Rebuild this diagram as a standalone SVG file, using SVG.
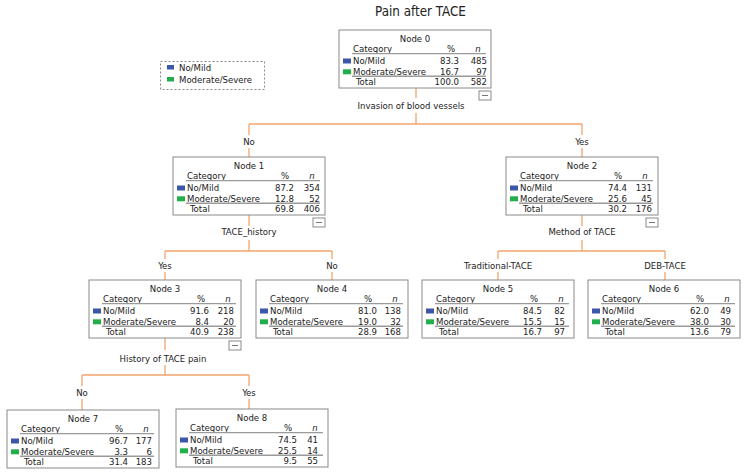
<svg xmlns="http://www.w3.org/2000/svg" width="745" height="475" viewBox="0 0 745 475">
<style>
text{font-family:"DejaVu Sans Condensed","DejaVu Sans","Liberation Sans",sans-serif;font-size:9.5px;fill:#222}
.c{text-anchor:middle}
.r{text-anchor:end}
.i{font-style:italic}
.title{font-size:13.3px}
.box{fill:#fff;stroke:#8a8a8a;stroke-width:1}
.hl{stroke:#9a9a9a;stroke-width:1.4}
.blue{fill:#3d57a8}
.green{fill:#22ae4b}
.btn{fill:#fff;stroke:#8a8a8a;stroke-width:1}
.btnl{stroke:#777;stroke-width:1}
.con line{stroke:#f5a56c;stroke-width:1.3;fill:none}
.legend{fill:#fff;stroke:#888;stroke-width:1;stroke-dasharray:2,2}
</style>
<defs>
<g id="tbl">
<rect class="box" x="0" y="0" width="152" height="58"/>
<text x="14" y="22">Category</text>
<text class="c" x="112" y="22">%</text>
<text class="c i" x="139" y="22">n</text>
<line class="hl" x1="13" y1="23.6" x2="147" y2="23.6"/>
<rect class="blue" x="4" y="28.5" width="8" height="5"/>
<text x="14" y="33.5">No/Mild</text>
<rect class="green" x="4" y="39.3" width="8" height="5"/>
<text x="14" y="44.5">Moderate/Severe</text>
<line class="hl" x1="13" y1="46.2" x2="147" y2="46.2"/>
<text x="17" y="55">Total</text>
</g>
<g id="btn">
<rect class="btn" x="140" y="61" width="12" height="9"/>
<line class="btnl" x1="143" y1="65.5" x2="149" y2="65.5"/>
</g>
</defs>

<text class="title c" x="420.5" y="16">Pain after TACE</text>

<g id="legend">
<rect class="legend" x="160.5" y="61.5" width="104" height="28"/>
<rect class="blue" x="167" y="65" width="7" height="4.5"/>
<text x="179" y="70.5">No/Mild</text>
<rect class="green" x="167" y="77" width="7" height="4.5"/>
<text x="179" y="82.5">Moderate/Severe</text>
</g>

<g class="con" id="connectors">
<line x1="416" y1="88" x2="416" y2="98"/>
<line x1="416" y1="113" x2="416" y2="124"/>
<line x1="249" y1="124" x2="582" y2="124"/>
<line x1="249" y1="124" x2="249" y2="135"/>
<line x1="249" y1="148" x2="249" y2="157"/>
<line x1="582" y1="124" x2="582" y2="135"/>
<line x1="582" y1="148" x2="582" y2="157"/>
<line x1="249" y1="215" x2="249" y2="226"/>
<line x1="249" y1="240" x2="249" y2="251"/>
<line x1="165" y1="251" x2="332" y2="251"/>
<line x1="165" y1="251" x2="165" y2="259"/>
<line x1="165" y1="272" x2="165" y2="280"/>
<line x1="332" y1="251" x2="332" y2="259"/>
<line x1="332" y1="272" x2="332" y2="280"/>
<line x1="582" y1="215" x2="582" y2="226"/>
<line x1="582" y1="240" x2="582" y2="251"/>
<line x1="498" y1="251" x2="665" y2="251"/>
<line x1="498" y1="251" x2="498" y2="259"/>
<line x1="498" y1="272" x2="498" y2="280"/>
<line x1="665" y1="251" x2="665" y2="259"/>
<line x1="665" y1="272" x2="665" y2="280"/>
<line x1="165" y1="338" x2="165" y2="350"/>
<line x1="165" y1="365" x2="165" y2="375"/>
<line x1="82" y1="375" x2="249" y2="375"/>
<line x1="82" y1="375" x2="82" y2="386"/>
<line x1="82" y1="399" x2="82" y2="410"/>
<line x1="249" y1="375" x2="249" y2="386"/>
<line x1="249" y1="399" x2="249" y2="409"/>
<text class="c" x="411" y="109">Invasion of blood vessels</text>
<text class="c" x="249" y="145">No</text>
<text class="c" x="582" y="145">Yes</text>
<text class="c" x="249" y="235">TACE_history</text>
<text class="c" x="582" y="235">Method of TACE</text>
<text class="c" x="165" y="268.5">Yes</text>
<text class="c" x="332" y="268.5">No</text>
<text class="c" x="498" y="268.5">Traditional-TACE</text>
<text class="c" x="665" y="268.5">DEB-TACE</text>
<text class="c" x="163" y="361.5">History of TACE pain</text>
<text class="c" x="82" y="395.5">No</text>
<text class="c" x="249" y="395.5">Yes</text>
</g>

<g id="node0" transform="translate(339,30)">
<use href="#tbl"/><use href="#btn"/>
<text class="c" x="76" y="11.5">Node 0</text>
<text class="r" x="120" y="33.5">83.3</text><text class="r" x="148" y="33.5">485</text>
<text class="r" x="120" y="44.5">16.7</text><text class="r" x="148" y="44.5">97</text>
<text class="r" x="120" y="55">100.0</text><text class="r" x="148" y="55">582</text>
</g>

<g id="node1" transform="translate(173,157)">
<use href="#tbl"/><use href="#btn"/>
<text class="c" x="76" y="11.5">Node 1</text>
<text class="r" x="121" y="33.5">87.2</text><text class="r" x="147" y="33.5">354</text>
<text class="r" x="121" y="44.5">12.8</text><text class="r" x="147" y="44.5">52</text>
<text class="r" x="121" y="55">69.8</text><text class="r" x="147" y="55">406</text>
</g>

<g id="node2" transform="translate(506,157)">
<use href="#tbl"/><use href="#btn"/>
<text class="c" x="76" y="11.5">Node 2</text>
<text class="r" x="121" y="33.5">74.4</text><text class="r" x="146" y="33.5">131</text>
<text class="r" x="121" y="44.5">25.6</text><text class="r" x="146" y="44.5">45</text>
<text class="r" x="121" y="55">30.2</text><text class="r" x="146" y="55">176</text>
</g>

<g id="node3" transform="translate(89,280)">
<use href="#tbl"/><use href="#btn"/>
<text class="c" x="76" y="11.5">Node 3</text>
<text class="r" x="120" y="33.5">91.6</text><text class="r" x="145" y="33.5">218</text>
<text class="r" x="120" y="44.5">8.4</text><text class="r" x="145" y="44.5">20</text>
<text class="r" x="120" y="55">40.9</text><text class="r" x="145" y="55">238</text>
</g>

<g id="node4" transform="translate(256,280)">
<use href="#tbl"/>
<text class="c" x="76" y="11.5">Node 4</text>
<text class="r" x="121" y="33.5">81.0</text><text class="r" x="145" y="33.5">138</text>
<text class="r" x="121" y="44.5">19.0</text><text class="r" x="145" y="44.5">32</text>
<text class="r" x="121" y="55">28.9</text><text class="r" x="145" y="55">168</text>
</g>

<g id="node5" transform="translate(422,280)">
<use href="#tbl"/>
<text class="c" x="76" y="11.5">Node 5</text>
<text class="r" x="120" y="33.5">84.5</text><text class="r" x="143" y="33.5">82</text>
<text class="r" x="120" y="44.5">15.5</text><text class="r" x="143" y="44.5">15</text>
<text class="r" x="120" y="55">16.7</text><text class="r" x="143" y="55">97</text>
</g>

<g id="node6" transform="translate(588,280)">
<use href="#tbl"/>
<text class="c" x="76" y="11.5">Node 6</text>
<text class="r" x="121" y="33.5">62.0</text><text class="r" x="143" y="33.5">49</text>
<text class="r" x="121" y="44.5">38.0</text><text class="r" x="143" y="44.5">30</text>
<text class="r" x="121" y="55">13.6</text><text class="r" x="143" y="55">79</text>
</g>

<g id="node7" transform="translate(7,410)">
<use href="#tbl"/>
<text class="c" x="76" y="11.5">Node 7</text>
<text class="r" x="121" y="33.5">96.7</text><text class="r" x="145" y="33.5">177</text>
<text class="r" x="121" y="44.5">3.3</text><text class="r" x="145" y="44.5">6</text>
<text class="r" x="121" y="55">31.4</text><text class="r" x="145" y="55">183</text>
</g>

<g id="node8" transform="translate(176,409)">
<use href="#tbl"/>
<text class="c" x="76" y="11.5">Node 8</text>
<text class="r" x="121" y="33.5">74.5</text><text class="r" x="142" y="33.5">41</text>
<text class="r" x="121" y="44.5">25.5</text><text class="r" x="142" y="44.5">14</text>
<text class="r" x="121" y="55">9.5</text><text class="r" x="142" y="55">55</text>
</g>
</svg>
